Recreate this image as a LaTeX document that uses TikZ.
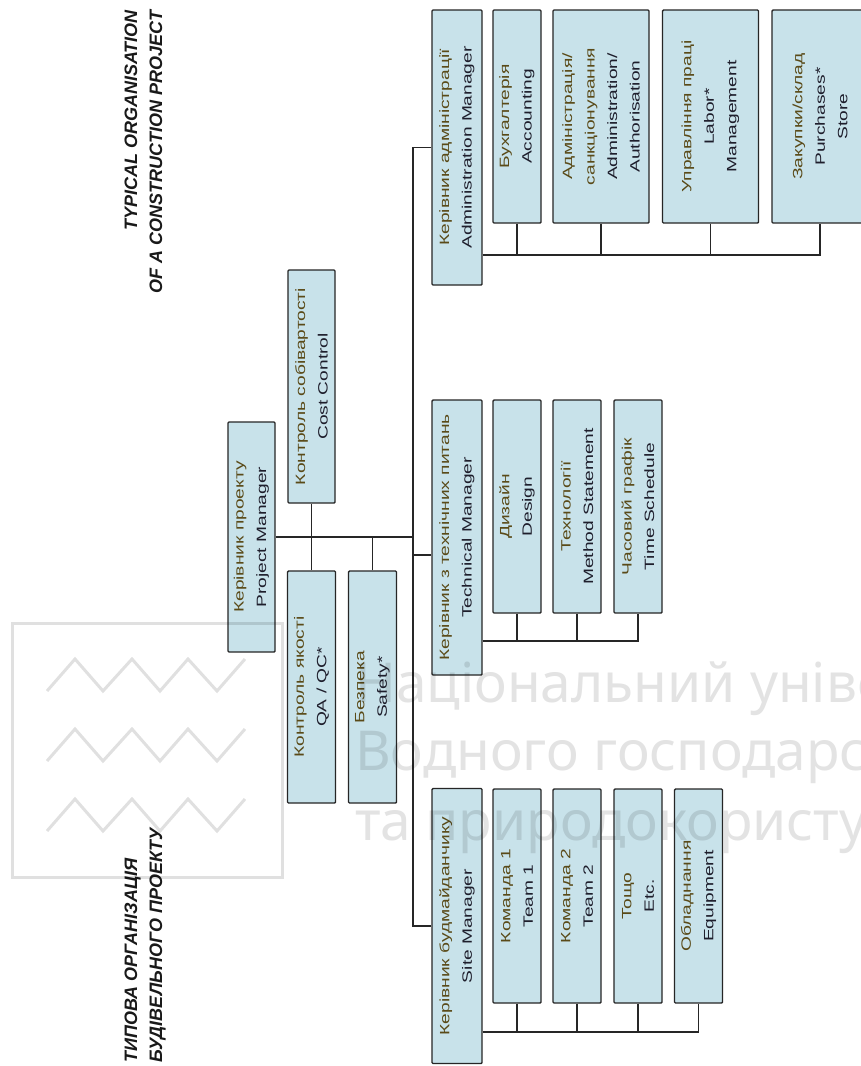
\documentclass[tikz,border=0pt]{standalone}
\usepackage{fontspec}
\setmainfont{Liberation Sans}
\newfontfamily\boxfont[FakeStretch=1.42]{Liberation Sans}
\newfontfamily\headfont{Liberation Sans}
\newfontfamily\markfont{Noto Sans}
\definecolor{boxfill}{HTML}{C8E2EA}
\definecolor{boxline}{HTML}{262626}
\definecolor{uatext}{HTML}{5A4A18}
\definecolor{entext}{HTML}{1E1E2C}
\newcommand\uatxt[1]{\textcolor{uatext}{#1}}
\newcommand\entxt[1]{\textcolor{entext}{#1}}
\tikzset{
  unit/.style={draw=boxline, fill=boxfill, line width=1.4pt, rotate=90,
    inner sep=0pt, align=center, rounded corners=1pt,
    font=\boxfont\fontsize{13.5}{22.5}\selectfont},
  mgr/.style={unit, minimum width=275pt, minimum height=50pt},
  narrow/.style={unit, minimum width=213pt, minimum height=48pt},
  wide/.style={unit, minimum width=213pt, minimum height=96pt},
  staff/.style={unit, minimum width=232pt, minimum height=48pt},
  conn/.style={draw=boxline, line width=1.4pt},
  headline/.style={rotate=90, inner sep=0pt, text=black!90,
    font=\headfont\bfseries\itshape\fontsize{18}{22}\selectfont},
  wmline/.style={draw=black, opacity=0.12, line width=3pt},
  wmtext/.style={text=black, text opacity=0.11, inner sep=0pt,
    font=\markfont\fontsize{55}{62}\selectfont}
}
\begin{document}
\begin{tikzpicture}[x=1pt, y=-1pt]
\useasboundingbox (0,0) rectangle (861,1066);
\clip (0,0) rectangle (861,1066);
\fill[white] (0,0) rectangle (861,1066);

% titles
\node[headline, anchor=base east] (titleEnA) at (137,10) {TYPICAL ORGANISATION};
\node[headline, anchor=base east] (titleEnB) at (162,10) {OF A CONSTRUCTION PROJECT};
\node[headline, anchor=base west] (titleUaA) at (137,1063) {ТИПОВА ОРГАНІЗАЦІЯ};
\node[headline, anchor=base west] (titleUaB) at (162,1063) {БУДІВЕЛЬНОГО ПРОЕКТУ};

% vertical spine feeding the three departments
\coordinate (trunk) at (413,0);
\coordinate (techTap) at (0,555);
\coordinate (admBus) at (0,255);
\coordinate (techBus) at (0,641);
\coordinate (siteBus) at (0,1032);

% project manager and staff functions
\node[unit, minimum width=230pt, minimum height=47pt] (pm) at (251.5,537)
  {\uatxt{Керівник проекту}\\\entxt{Project Manager}};
\node[unit, minimum width=233pt, minimum height=47pt] (cc) at (311.5,386.5)
  {\uatxt{Контроль собівартості}\\\entxt{Cost Control}};
\node[staff] (qa) at (311.5,687)
  {\uatxt{Контроль якості}\\\entxt{QA / QC*}};
\node[staff] (safety) at (372.5,687)
  {\uatxt{Безпека}\\\entxt{Safety*}};

% department managers
\node[mgr] (adm) at (457,147.5)
  {\uatxt{Керівник адміністрації}\\\entxt{Administration Manager}};
\node[mgr] (tech) at (457,537.5)
  {\uatxt{Керівник з технічних питань}\\\entxt{Technical Manager}};
\node[mgr] (site) at (457,926)
  {\uatxt{Керівник будмайданчику}\\\entxt{Site Manager}};

% administration
\node[narrow] (acc) at (517,116.5)
  {\uatxt{Бухгалтерія}\\\entxt{Accounting}};
\node[wide] (auth) at (601,116.5)
  {\uatxt{Адміністрація/}\\\uatxt{санкціонування}\\\entxt{Administration/}\\\entxt{Authorisation}};
\node[wide] (labor) at (710.5,116.5)
  {\uatxt{Управління праці}\\\entxt{Labor*}\\\entxt{Management}};
\node[wide] (store) at (820,116.5)
  {\uatxt{Закупки/склад}\\\entxt{Purchases*}\\\entxt{Store}};

% technical
\node[narrow] (design) at (517,506.5)
  {\uatxt{Дизайн}\\\entxt{Design}};
\node[narrow] (method) at (577,506.5)
  {\uatxt{Технології}\\\entxt{Method Statement}};
\node[narrow] (sched) at (638,506.5)
  {\uatxt{Часовий графік}\\\entxt{Time Schedule}};

% site
\node[narrow, minimum width=214pt] (team1) at (517,896)
  {\uatxt{Команда 1}\\\entxt{Team 1}};
\node[narrow, minimum width=214pt] (team2) at (577,896)
  {\uatxt{Команда 2}\\\entxt{Team 2}};
\node[narrow, minimum width=214pt] (etc) at (638,896)
  {\uatxt{Тощо}\\\entxt{Etc.}};
\node[narrow, minimum width=214pt] (equip) at (698.5,896)
  {\uatxt{Обладнання}\\\entxt{Equipment}};

% connectors: project manager level
\draw[conn] (pm.south) -- (pm.south -| trunk);
\draw[conn] (cc.west) -- (qa.east);
\draw[conn] (safety.east) -- (safety.east |- pm.south);

% connectors: spine to department managers
\draw[conn] (adm.north) -- (adm.north -| trunk) -- (site.north -| trunk) -- (site.north);
\draw[conn] (techTap -| trunk) -- (techTap -| tech.north);

% connectors: department buses
\draw[conn] (adm.south |- admBus) -| (store.west);
\foreach \n in {acc,auth,labor}
  \draw[conn] (\n.west) -- (\n.west |- admBus);
\draw[conn] (tech.south |- techBus) -| (sched.west);
\foreach \n in {design,method}
  \draw[conn] (\n.west) -- (\n.west |- techBus);
\draw[conn] (site.south |- siteBus) -| (equip.west);
\foreach \n in {team1,team2,etc}
  \draw[conn] (\n.west) -- (\n.west |- siteBus);

% faint publisher mark laid over the sheet
\draw[wmline] (12,623) rectangle (282,877);
\foreach \r in {0,70,140}
  \draw[wmline, line join=miter]
    (47,691+\r) -- (75,659+\r) -- (103,691+\r) -- (132,659+\r)
    -- (160,691+\r) -- (188,659+\r) -- (217,691+\r) -- (245,659+\r);
\node[wmtext, anchor=base west] (markA) at (355,702) {Національний університет};
\node[wmtext, anchor=base west] (markB) at (355,770) {Водного господарства};
\node[wmtext, anchor=base west] (markC) at (355,840) {та природокористування};
\end{tikzpicture}
\end{document}
